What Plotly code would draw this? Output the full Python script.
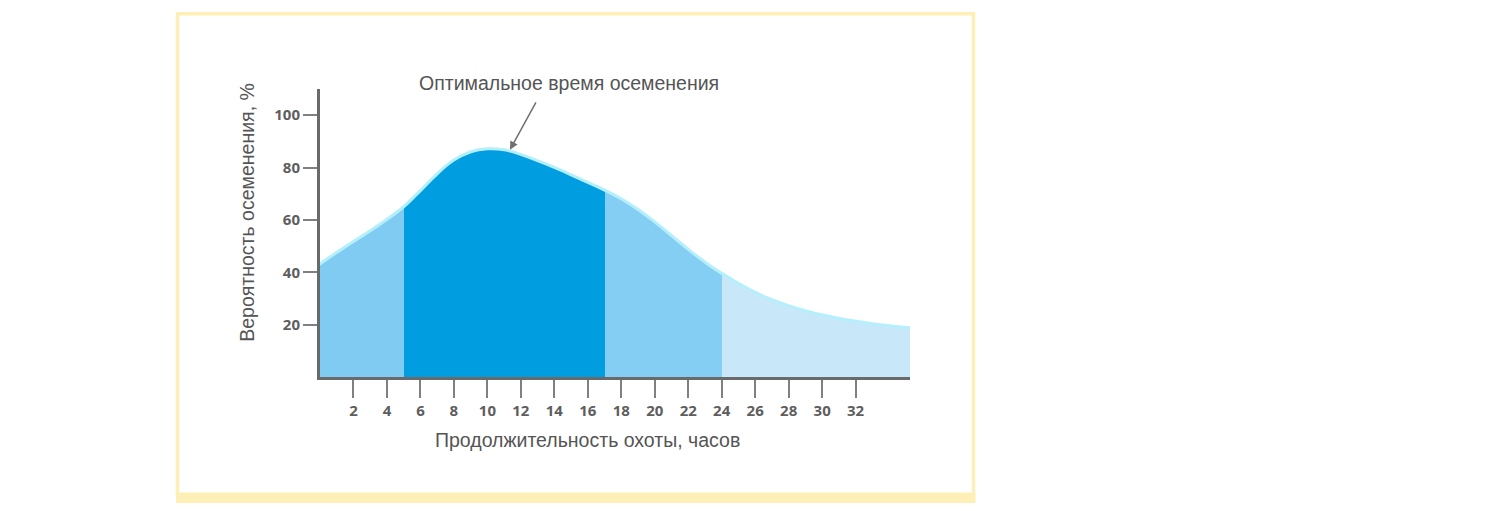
import plotly.graph_objects as go

# ---- data ----
hours = [0, 1, 2, 3, 4, 5, 6, 7, 8, 9, 10, 11, 12, 13, 14, 15, 16, 17, 18, 19, 20, 21, 22, 23, 24,
         25, 26, 27, 28, 29, 30, 31, 32, 33, 34, 35.25]
probability = [42.5, 46.9, 51.1, 55.2, 59.5, 64.3, 70.4, 76.8, 82.2, 85.4, 86.6, 86.2, 84.4, 82, 79.4, 76.6,
               73.7, 70.8, 67.4, 63.3, 58.5, 53.3, 48, 43.2, 38.9, 35.1, 31.7, 28.9, 26.6, 24.7, 23.1,
               21.8, 20.7, 19.8, 19, 18.2]
zone_bounds = [0, 5, 17, 24, 35.25]
zone_colors = ["#7fcbf1", "#009ee0", "#84cdf3", "#c8e8f9"]
x_ticks = list(range(2, 33, 2))
y_ticks = [20, 40, 60, 80, 100]
title_text = "Оптимальное время осеменения"
x_title = "Продолжительность охоты, часов"
y_title = "Вероятность осеменения, %"

# ---- layout geometry (page pixels; page body has an 8px margin) ----
OFF = 8
W, H = 1495 - 2 * OFF, 511 - 2 * OFF
L, R = 320 - OFF, 910 - OFF
T, B = 89 - OFF, 377.5 - OFF
pw, ph = R - L, B - T


def px(x):
    return (x - OFF - L) / pw


def py(y):
    return (B - (y - OFF)) / ph


# hard-stop colour bands along the hour axis
x0, x1 = zone_bounds[0], zone_bounds[-1]
cscale = []
for i, c in enumerate(zone_colors):
    a = (zone_bounds[i] - x0) / (x1 - x0)
    b = (zone_bounds[i + 1] - x0) / (x1 - x0)
    cscale.append([a, c])
    cscale.append([b, c])

fig = go.Figure()

# glow along the top edge
fig.add_trace(go.Scatter(x=hours, y=probability, mode="lines",
                         line=dict(color="#b4effd", width=6, shape="spline", smoothing=1),
                         hoverinfo="skip", showlegend=False))

fig.add_trace(go.Scatter(x=hours, y=probability, mode="lines", fill="tozeroy",
                         fillgradient=dict(type="horizontal", start=x0, stop=x1, colorscale=cscale),
                         line=dict(color="rgba(0,0,0,0)", width=0, shape="spline", smoothing=1),
                         hoverinfo="skip", showlegend=False))

axis_common = dict(showgrid=False, zeroline=False, showline=True, linewidth=3,
                   linecolor="#6a6a6a", ticks="outside", tickwidth=2, tickcolor="#808080",
                   tickfont=dict(family="Open Sans", size=15, color="#5e5e5e", weight="bold"))

fig.update_xaxes(range=[0, 35.25], tickvals=x_ticks, ticktext=[str(v) for v in x_ticks],
                 ticklen=18, **axis_common)
fig.update_yaxes(range=[0, 110], tickvals=y_ticks, ticktext=[str(v) for v in y_ticks],
                 ticklen=14, **axis_common)

card_color = "#fdefb6"
shapes = [
    dict(type="rect", xref="paper", yref="paper", x0=px(177.5), x1=px(973.5), y0=py(495), y1=py(13.5),
         line=dict(color=card_color, width=3.5), layer="below"),
    dict(type="rect", xref="paper", yref="paper", x0=px(176), x1=px(975.5), y0=py(504), y1=py(494),
         line=dict(width=0), fillcolor=card_color, layer="below"),
]

txt_font = dict(family="Liberation Sans", size=19.5, color="#555555")
annotations = [
    dict(xref="paper", yref="paper", x=px(569), y=py(83), text=title_text, showarrow=False,
         font=txt_font, xanchor="center", yanchor="middle"),
    dict(xref="paper", yref="paper", x=px(587), y=py(441), text=x_title, showarrow=False,
         font=txt_font, xanchor="center", yanchor="middle"),
    dict(xref="paper", yref="paper", x=px(247), y=py(213), text=y_title, showarrow=False,
         font=txt_font, textangle=-90, xanchor="center", yanchor="middle"),
    dict(xref="x", yref="y", x=11.35, y=86.8, ax=12.95, ay=105.5, axref="x", ayref="y",
         text="", showarrow=True, arrowhead=2, arrowsize=1.1, arrowwidth=1.5,
         arrowcolor="#707070", standoff=0),
]

fig.update_layout(width=W, height=H, autosize=False,
                  margin=dict(l=L, r=W - R, t=T, b=H - B, pad=0),
                  paper_bgcolor="white", plot_bgcolor="white",
                  shapes=shapes, annotations=annotations, showlegend=False)

fig.write_html("out.html")
